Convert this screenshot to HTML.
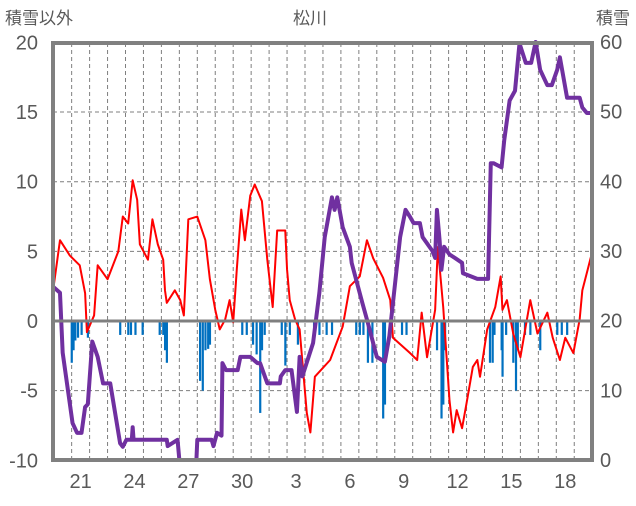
<!DOCTYPE html>
<html><head><meta charset="utf-8"><style>
body{margin:0;background:#fff;}
svg text{font-family:"Liberation Sans","Noto Sans CJK JP",sans-serif;fill:#595959;}
</style></head><body>
<svg id="chart" width="636" height="501" viewBox="0 0 636 501" xmlns="http://www.w3.org/2000/svg">
<text x="5" y="24" font-size="17">積雪以外</text>
<text x="310" y="24" font-size="17" text-anchor="middle">松川</text>
<text x="630" y="24" font-size="17" text-anchor="end">積雪</text>
<g id="grid"></g>
<g id="bars"></g>
<g id="lines"></g>
<g id="axes"></g>
</svg>
<script>
const leftTicks=[20,15,10,5,0,-5,-10];
const rightTicks=[60,50,40,30,20,10,0];
const dayLabels=["21","24","27","30","3","6","9","12","15","18"];
const dayLabelIdx=[1,4,7,10,13,16,19,22,25,28];
const redT=[0,0.35,0.9,1.45,1.75,1.85,2.25,2.45,3,3.6,3.85,4.15,4.4,4.65,4.8,5.25,5.5,5.8,6.1,6.2,6.3,6.75,7.05,7.25,7.5,8,8.45,8.7,9,9.25,9.55,9.8,10,10.2,10.45,10.65,10.95,11.2,11.6,11.9,12.2,12.45,12.9,13,13.15,13.45,13.7,14.1,14.3,14.55,15.4,16.1,16.5,17.05,17.45,17.8,18.35,18.75,18.9,19.85,20.25,20.5,20.8,21.25,21.4,21.7,22.05,22.25,22.45,22.75,23,23.35,23.6,23.75,24.15,24.6,24.9,25,25.25,25.6,26,26.55,26.95,27.5,27.8,28.2,28.5,28.95,29.3,29.45,29.75,29.95];
const redV=[2.5,5.8,4.7,4,2,-0.8,0.4,4,3,5,7.5,7,10.1,8.7,5.5,4.4,7.3,5.5,4.4,2.2,1.3,2.2,1.5,0.4,7.3,7.5,5.8,3,0.8,-0.6,0.1,1.5,-0.1,3.7,8,5.8,9,9.8,8.6,4.4,1,6.5,6.5,3.7,1.5,0.1,-0.6,-6.6,-8,-4,-2.8,-0.4,2.5,3.2,5.8,4.5,3.1,1.5,-1.2,-2.3,-2.8,0.6,-2.6,0.8,5.3,1,-5.7,-8,-6.4,-7.7,-5.9,-3.3,-2.8,-4,-0.6,1,3.2,0.8,1.5,-0.9,-2.6,1.5,-0.9,0.6,-1.2,-2.8,-1.2,-2.3,0.1,2.2,3.7,4.7];
const snowT=[0,0.35,0.5,1.05,1.3,1.55,1.75,1.9,2.15,2.45,2.75,3.15,3.7,3.85,4.05,4.35,4.4,4.45,6.3,6.35,6.9,7.0,7.95,8.0,8.8,8.9,9.1,9.35,9.4,9.6,10.25,10.4,10.95,11.35,11.5,11.9,12.6,12.65,12.9,13.25,13.55,13.7,13.85,14.45,14.8,15.1,15.5,15.65,15.8,16.1,16.5,16.6,17.2,17.5,18.0,18.45,18.7,19.1,19.3,19.6,19.85,20.05,20.4,20.55,21.1,21.25,21.35,21.5,21.6,21.75,22.05,22.35,22.75,22.8,23.6,24.2,24.35,24.5,24.95,25.1,25.4,25.7,25.95,26.3,26.6,26.85,27.1,27.5,27.75,28.05,28.2,28.6,29.3,29.45,29.7,29.95];
const snowV=[24.8,24,15.4,5.3,3.9,3.9,7.6,8,17,14.8,11,11,2.4,1.9,2.9,2.9,4.7,2.9,2.9,2,2.9,0,0,2.9,2.9,2,3.9,3.5,13.9,12.9,12.9,14.8,14.8,13.9,13.9,11,11,12,12.9,12.9,6.9,14.8,12,16.8,24,32,37.7,35.9,37.7,33.4,30.6,28.3,22.5,19.7,14.8,14.1,17.8,27.3,32,35.9,34.9,34,34,32,30,29,35.9,31.5,27.3,30.6,29.5,29,28.3,26.8,26,26,42.6,42.6,42,45.9,51.6,53,59.8,57,57,60,56,53.8,53.8,56,57.8,52,52,50.6,49.8,49.8];
const barT=[1.0,1.1,1.2,1.35,1.55,1.9,3.7,4.15,4.3,4.55,4.95,5.9,6.1,6.2,6.3,8.15,8.3,8.45,8.6,8.7,10.5,10.75,11.1,11.3,11.5,11.6,11.75,12.7,12.9,13.15,13.6,14.5,14.8,15.2,15.5,16.85,17.05,17.25,17.5,17.75,18.35,18.45,18.75,19.4,19.65,21.35,21.6,21.7,21.8,24.3,24.45,24.55,24.95,25.0,25.2,25.6,25.75,25.85,26.25,26.55,27.1,28.05,28.3,28.6];
const barV=[-3,-2.1,-1.4,-1.2,-1,-1.2,-1,-1,-1,-1,-1,-1,-1,-2.1,-3,-4.3,-5,-2.1,-2,-1.7,-1,-1,-1.7,-2.4,-6.6,-2.1,-1,-1,-3.2,-1,-1.7,-1,-1,-1,-1,-1,-1,-1,-3,-3,-7,-6,-1.2,-1,-1,-2.1,-7,-6,-2.1,-3,-3,-1,-2.1,-4,-1,-3,-5,-2.1,-1,-1,-2.1,-1,-1,-1];

const NS="http://www.w3.org/2000/svg";
const X0=53.7,DW=17.95,PL=53,PR=592,PT=43,PB=460;
const xs=t=>X0+t*DW;
const yL=v=>321-v*13.93;
const yR=s=>460-s*6.967;
function mk(tag,attrs,parent){const e=document.createElementNS(NS,tag);for(const k in attrs)e.setAttribute(k,attrs[k]);parent.appendChild(e);return e;}
const grid=document.getElementById('grid'),bars=document.getElementById('bars'),lines=document.getElementById('lines'),axes=document.getElementById('axes');
for(let d=1;d<30;d++){const x=xs(d);const l=mk('line',{x1:x,x2:x,y1:PT,y2:PB,stroke:'#7f7f7f','stroke-width':1,'stroke-dasharray':'4,3'},grid);

}
leftTicks.forEach(v=>{if(v!==0&&v!==20&&v!==-10){const l=mk('line',{x1:PL,x2:PR,y1:yL(v),y2:yL(v),stroke:'#7f7f7f','stroke-width':1,'stroke-dasharray':'4,3'},grid);

}});
barT.forEach((t,i)=>{const y0=yL(0),y1=yL(barV[i]);const r=mk('rect',{x:xs(t)-1,y:Math.min(y0,y1),width:2.2,height:Math.abs(y1-y0),fill:'#0070C0'},bars);

});
const zl=mk('line',{x1:PL,x2:PR,y1:yL(0),y2:yL(0),stroke:'#7f7f7f','stroke-width':3},axes);


const rp=mk('polyline',{points:redT.map((t,i)=>xs(t)+','+yL(redV[i])).join(' '),fill:'none',stroke:'#FF0000','stroke-width':2,'stroke-linejoin':'round'},lines);


const sp=mk('polyline',{points:snowT.map((t,i)=>xs(t)+','+yR(snowV[i])).join(' '),fill:'none',stroke:'#7030A0','stroke-width':4,'stroke-linejoin':'round'},lines);


const fr=mk('rect',{x:PL,y:PT,width:PR-PL,height:PB-PT,fill:'none',stroke:'#808080','stroke-width':4},axes);


leftTicks.forEach(v=>{const t=mk('text',{x:38,y:yL(v)+7,'font-size':20,'text-anchor':'end'},axes);t.textContent=v;

});
rightTicks.forEach(v=>{const t=mk('text',{x:600,y:yR(v)+7,'font-size':20},axes);t.textContent=v;

});
dayLabels.forEach((s,i)=>{const t=mk('text',{x:xs(dayLabelIdx[i]+0.5),y:488,'font-size':20,'text-anchor':'middle'},axes);t.textContent=s;

});
</script>
</body></html>
